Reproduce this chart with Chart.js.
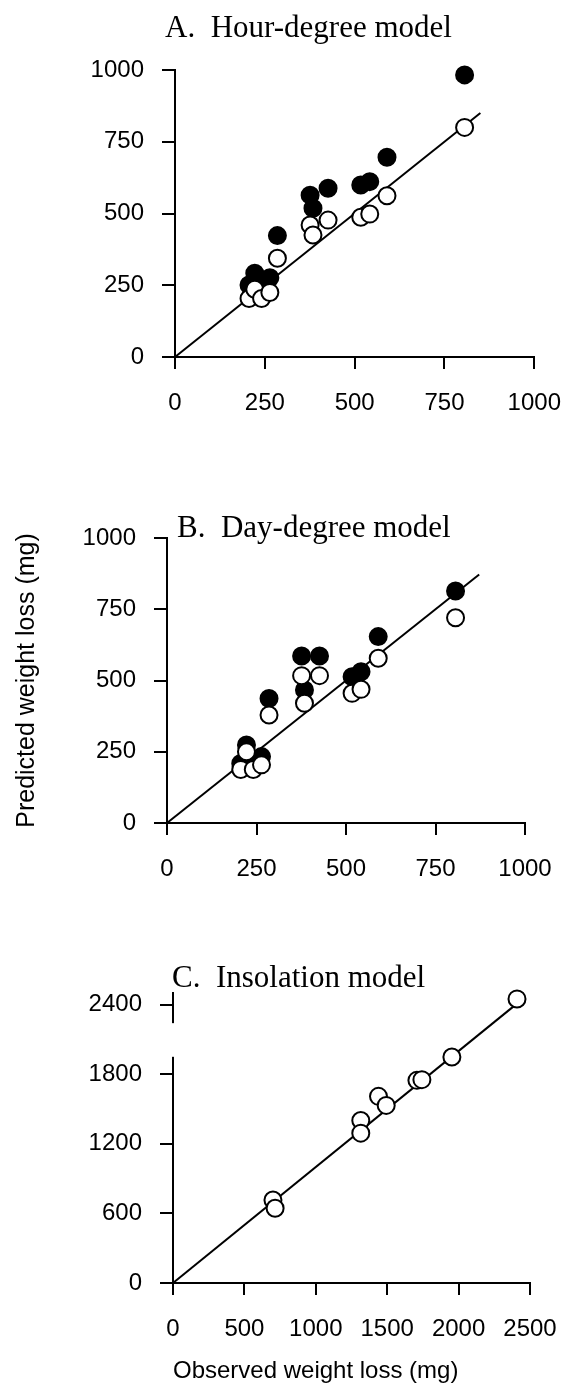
<!DOCTYPE html>
<html><head><meta charset="utf-8">
<script src="https://cdn.jsdelivr.net/npm/chart.js@4.4.1/dist/chart.umd.min.js"></script>
<style>
html,body{margin:0;padding:0;background:#fff;}
body{width:581px;height:1389px;position:relative;overflow:hidden;}
canvas{position:absolute;left:0;}
</style></head><body>
<canvas id="cA" style="top:0px;width:581px;height:440px"></canvas>
<canvas id="cB" style="top:470px;width:581px;height:440px"></canvas>
<canvas id="cC" style="top:930px;width:581px;height:459px"></canvas>
<script>
// ---- data ----
const observedAB = [206, 222, 241, 264, 285, 376, 384, 426, 517, 542, 590, 806];
const hourDegreeFilled = [251, 292, 262, 276, 423, 564, 518, 588, 599, 611, 696, 983];
const hourDegreeOpen   = [204, 236, 204, 225, 344, 460, 425, 477, 487, 498, 562, 800];
const dayDegreeFilled  = [209, 274, 220, 233, 437, 586, 467, 586, 513, 531, 654, 814];
const dayDegreeOpen    = [188, 250, 188, 204, 379, 517, 420, 517, 455, 469, 578, 720];
const observedC  = [700, 715, 1315, 1315, 1439, 1493, 1708, 1743, 1953, 2409];
const insolation = [716, 645, 1401, 1292, 1609, 1531, 1747, 1753, 1948, 2449];
const lineA = [0, 850];
const lineB = [0, 872];
const lineC = [0, 2400];
const ticksAB = [0, 250, 500, 750, 1000];
const yTicksC = [0, 600, 1200, 1800, 2400];
const xTicksC = [0, 500, 1000, 1500, 2000, 2500];
const yBreakC = [1950, 2240];
const titleA = 'A.  Hour-degree model';
const titleB = 'B.  Day-degree model';
const titleC = 'C.  Insolation model';
const yLabel = 'Predicted weight loss (mg)';
const xLabel = 'Observed weight loss (mg)';

Chart.defaults.font.family = '"Liberation Sans", Arial, sans-serif';
Chart.defaults.font.size = 24;
Chart.defaults.color = '#000';

const pts = (xs, ys) => xs.map((x, i) => ({x: x, y: ys[i]}));

const panelTitle = {
  id: 'panelTitle',
  afterDraw(chart, args, opts) {
    const {ctx, chartArea} = chart;
    ctx.save();
    ctx.font = '31px "Liberation Serif", "Times New Roman", serif';
    ctx.fillStyle = '#000';
    ctx.textBaseline = 'alphabetic';
    ctx.textAlign = 'left';
    ctx.fillText(opts.text, chartArea.left + opts.dx, chartArea.top + opts.dy);
    ctx.restore();
  }
};

// scale break on the y axis (gap in the axis line)
const axisBreak = {
  id: 'axisBreak',
  afterDraw(chart, args, opts) {
    if (!opts || !opts.range) return;
    const y = chart.scales.y;
    const y1 = y.getPixelForValue(opts.range[1]);
    const y0 = y.getPixelForValue(opts.range[0]);
    const ctx = chart.ctx;
    ctx.save();
    ctx.fillStyle = '#fff';
    ctx.fillRect(chart.chartArea.left - 3, y1, 6, y0 - y1);
    ctx.restore();
  }
};

function makeScale(min, max, tickVals, horizontal, size, tickLen, pad, title) {
  const s = {
    type: 'linear', min: min, max: max,
    afterBuildTicks: sc => { sc.ticks = tickVals.map(v => ({value: v})); },
    afterFit: sc => { if (horizontal) sc.height = size; else sc.width = size; },
    ticks: { callback: v => String(v), padding: pad, color: '#000', font: {size: 24} },
    grid: { drawOnChartArea: false, drawTicks: true, tickLength: tickLen, color: '#000', lineWidth: 2 },
    border: { display: true, color: '#000', width: 2 }
  };
  if (title) s.title = title;
  return s;
}

function makePanel(id, cfg) {
  const cv = document.getElementById(id);
  const h = parseInt(cv.style.height);
  cv.width = 581; cv.height = h;
  const datasets = [];
  datasets.push({ type: 'scatter', data: pts(cfg.obs, cfg.open), pointRadius: 8.5, pointBorderWidth: 2,
    pointBackgroundColor: '#fff', pointBorderColor: '#000', clip: false, showLine: false });
  if (cfg.filled) datasets.push({ type: 'scatter', data: pts(cfg.obs, cfg.filled), pointRadius: 8.5, pointBorderWidth: 2,
    pointBackgroundColor: '#000', pointBorderColor: '#000', clip: false, showLine: false });
  datasets.push({ type: 'line', data: pts(cfg.line, cfg.line), borderColor: '#000', borderWidth: 2,
    pointRadius: 0, fill: false, clip: false });
  return new Chart(cv, {
    type: 'scatter',
    data: { datasets: datasets },
    plugins: [panelTitle, axisBreak],
    options: {
      responsive: false, animation: false, devicePixelRatio: 1,
      layout: { padding: cfg.padding },
      plugins: { legend: {display: false}, tooltip: {enabled: false},
        panelTitle: cfg.title, axisBreak: {range: cfg.yBreak || null} },
      scales: {
        x: makeScale(0, cfg.xmax, cfg.xticks, true, cfg.xh, 12, 20, cfg.xtitle),
        y: makeScale(0, cfg.ymax, cfg.yticks, false, cfg.yw, 13, 18, cfg.ytitle)
      }
    }
  });
}

makePanel('cA', {
  obs: observedAB, open: hourDegreeOpen, filled: hourDegreeFilled, line: lineA,
  xmax: 1000, ymax: 1000, xticks: ticksAB, yticks: ticksAB,
  padding: {top: 70, right: 46, left: 0, bottom: 0}, xh: 83, yw: 175,
  title: {text: titleA, dx: -10, dy: -33}
});

makePanel('cB', {
  obs: observedAB, open: dayDegreeOpen, filled: dayDegreeFilled, line: lineB,
  xmax: 1000, ymax: 1000, xticks: ticksAB, yticks: ticksAB,
  padding: {top: 68, right: 56, left: 0, bottom: 0}, xh: 87, yw: 167,
  title: {text: titleB, dx: 10, dy: -1},
  ytitle: {display: true, text: yLabel, color: '#000', font: {size: 25}, padding: {top: 12, bottom: 0}}
});

makePanel('cC', {
  obs: observedC, open: insolation, filled: null, line: lineC,
  xmax: 2500, ymax: 2500, xticks: xTicksC, yticks: yTicksC, yBreak: yBreakC,
  padding: {top: 63, right: 51, left: 0, bottom: 0}, xh: 106, yw: 173,
  title: {text: titleC, dx: -1, dy: -6},
  xtitle: {display: true, text: xLabel, color: '#000', align: 'start', font: {size: 24}, padding: {top: 0, bottom: 3}}
});
</script>
</body></html>
